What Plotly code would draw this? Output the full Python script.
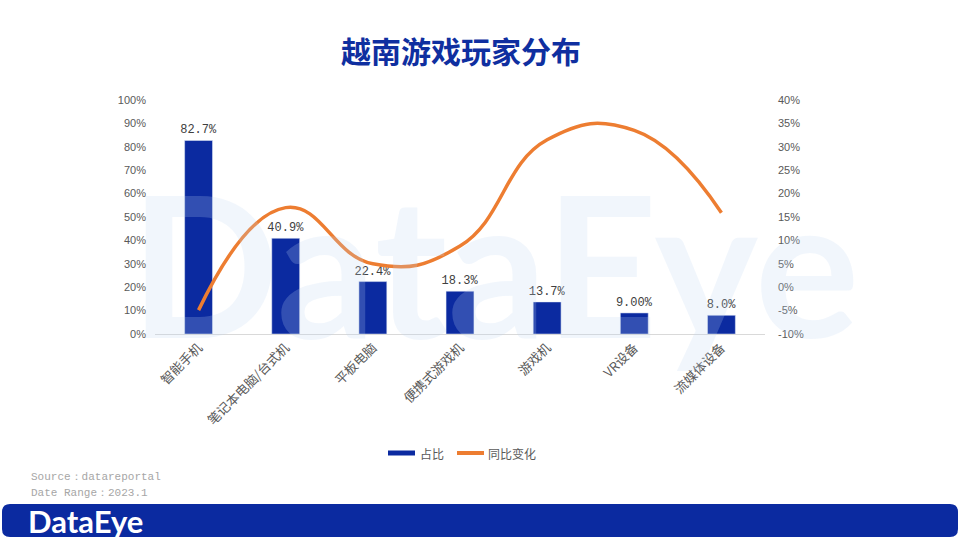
import plotly.graph_objects as go

categories = ["智能手机", "笔记本电脑/台式机", "平板电脑", "便携式游戏机", "游戏机", "VR设备", "流媒体设备"]
share = [82.7, 40.9, 22.4, 18.3, 13.7, 9.0, 8.0]
share_labels = ["82.7%", "40.9%", "22.4%", "18.3%", "13.7%", "9.00%", "8.0%"]
yoy = [-4.9, 17.0, 5.0, 8.8, 31.5, 33.5, 15.9]
left_ticks = list(range(0, 101, 10))
right_ticks = list(range(-10, 41, 5))

BLUE = "#0B2AA0"
ORANGE = "#ED7D31"

# plot area in pixels
L, R, T, B = 155, 765, 100, 334
W, H = 960, 540


def px(x):
    return (x - L) / (R - L)


def py(y):
    return (B - y) / (B - T)


fig = go.Figure()
fig.add_trace(go.Bar(
    x=categories, y=share, name="占比", marker_color=BLUE, width=0.32,
    text=share_labels, textposition="outside", cliponaxis=False, constraintext="none",
    textfont=dict(family="Liberation Mono", size=12, color="#404040"),
    showlegend=False,
))
fig.add_trace(go.Scatter(
    x=categories, y=yoy, name="同比变化", yaxis="y2", mode="lines",
    line=dict(color=ORANGE, width=3.5, shape="spline", smoothing=1.3),
    showlegend=False,
))

shapes = []
annotations = []

# watermark
annotations.append(dict(
    xref="paper", yref="paper", x=px(495), y=py(262), text="<b>DataEye</b>", showarrow=False,
    font=dict(family="Lato", size=196, color="rgba(190,216,242,0.22)"),
    xanchor="center", yanchor="middle",
))

# title
annotations.append(dict(
    xref="paper", yref="paper", x=px(461), y=py(50), text="<b>越南游戏玩家分布</b>", showarrow=False,
    font=dict(family="Noto Sans CJK SC", size=30, color="#0F2FA0"),
    xanchor="center", yanchor="middle",
))

# custom legend
shapes.append(dict(type="rect", xref="paper", yref="paper", x0=px(388), x1=px(415), y0=py(450.5), y1=py(455.5),
                   fillcolor=BLUE, line=dict(width=0)))
annotations.append(dict(xref="paper", yref="paper", x=px(418), y=py(453), text="占比", showarrow=False,
                        font=dict(family="Noto Sans CJK SC", size=12, color="#595959"), xanchor="left", yanchor="middle"))
shapes.append(dict(type="line", xref="paper", yref="paper", x0=px(457), x1=px(484), y0=py(453), y1=py(453),
                   line=dict(color=ORANGE, width=4)))
annotations.append(dict(xref="paper", yref="paper", x=px(486), y=py(453), text="同比变化", showarrow=False,
                        font=dict(family="Noto Sans CJK SC", size=12, color="#595959"), xanchor="left", yanchor="middle"))

# source
annotations.append(dict(xref="paper", yref="paper", x=px(29), y=py(477), text="Source：datareportal", showarrow=False,
                        font=dict(family="Liberation Mono", size=11, color="#A6A6A6"), xanchor="left", yanchor="middle"))
annotations.append(dict(xref="paper", yref="paper", x=px(29), y=py(493), text="Date Range：2023.1", showarrow=False,
                        font=dict(family="Liberation Mono", size=11, color="#A6A6A6"), xanchor="left", yanchor="middle"))

# footer bar
x0, x1, y0, y1, r = 2, 958, 504, 537, 8
path = (f"M {px(x0 + r)} {py(y0)} L {px(x1 - r)} {py(y0)} Q {px(x1)} {py(y0)} {px(x1)} {py(y0 + r)} "
        f"L {px(x1)} {py(y1 - r)} Q {px(x1)} {py(y1)} {px(x1 - r)} {py(y1)} "
        f"L {px(x0 + r)} {py(y1)} Q {px(x0)} {py(y1)} {px(x0)} {py(y1 - r)} "
        f"L {px(x0)} {py(y0 + r)} Q {px(x0)} {py(y0)} {px(x0 + r)} {py(y0)} Z")
shapes.append(dict(type="path", xref="paper", yref="paper", path=path, fillcolor=BLUE, line=dict(width=0)))
annotations.append(dict(xref="paper", yref="paper", x=px(26), y=py(521), text="<b>DataEye</b>", showarrow=False,
                        font=dict(family="Lato", size=31, color="white"), xanchor="left", yanchor="middle"))

fig.update_layout(
    width=W, height=H,
    margin=dict(l=L, r=W - R, t=T, b=H - B),
    paper_bgcolor="white", plot_bgcolor="white",
    bargap=0.68,
    xaxis=dict(
        tickangle=-45, showgrid=False, showline=True, linecolor="#D9D9D9", linewidth=1,
        ticks="", tickfont=dict(family="Noto Sans CJK SC", size=13, color="#595959"),
    ),
    yaxis=dict(
        range=[0, 100], tickvals=left_ticks, ticktext=[f"{v}%" for v in left_ticks],
        showgrid=False, zeroline=False, showline=False, ticks="", ticklabelstandoff=8,
        tickfont=dict(family="Liberation Sans", size=11, color="#595959"),
    ),
    yaxis2=dict(
        range=[-10, 40], tickvals=right_ticks, ticktext=[f"{v}%" for v in right_ticks],
        overlaying="y", side="right", showgrid=False, zeroline=False, showline=False, ticks="",
        ticklabelstandoff=12,
        tickfont=dict(family="Liberation Sans", size=11, color="#595959"),
    ),
    shapes=shapes, annotations=annotations,
    showlegend=False,
)

fig.write_html("out.html")
